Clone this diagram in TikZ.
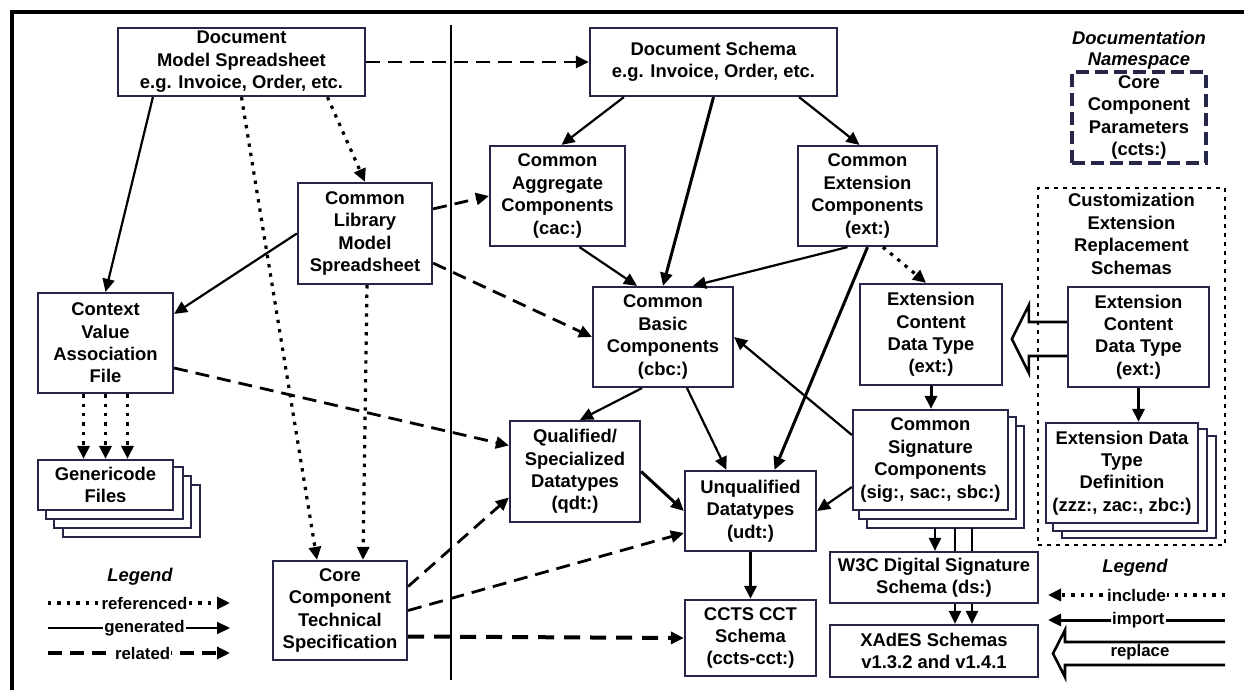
\documentclass[tikz,border=0pt]{standalone}
\usepackage{fontspec}
\setmainfont{Liberation Sans}
\usepackage{xcolor}
\usetikzlibrary{arrows.meta,backgrounds}
\definecolor{boxnavy}{RGB}{38,38,72}
\tikzset{%
  tipA/.tip={Triangle[length=6.5pt,width=6pt]},
  ubox/.style={draw=boxnavy, line width=1.1pt, fill=white, align=center, inner sep=1pt,
    font=\fontsize{9.2}{11.2}\selectfont\bfseries},
  stackline/.style={draw=boxnavy, line width=1.1pt, fill=white},
  docbox/.style={ubox, line width=1.6pt, dash pattern=on 6.5pt off 3pt},
  custbox/.style={draw=black, line width=1.3pt, dash pattern=on 2pt off 2.5pt},
  ttl/.style={align=center, inner sep=0pt, font=\fontsize{9.2}{11.2}\selectfont\bfseries},
  ititle/.style={ttl, font=\fontsize{9.2}{10.5}\selectfont\bfseries\itshape},
  lab/.style={fill=white, inner sep=0.6pt, font=\fontsize{8.4}{9}\selectfont\bfseries},
  genline/.style={line width=1.1pt, -tipA},
  relline/.style={line width=1.4pt, dash pattern=on 7pt off 4pt, -tipA},
  refline/.style={line width=1.6pt, dash pattern=on 1.7pt off 3pt, -tipA},
  hollow/.style={line width=1.3pt, line join=miter}
}

\begin{document}
\begin{tikzpicture}[x=0.5pt,y=-0.5pt]
\useasboundingbox (0,0) rectangle (1244,690);
% frame and separator
\draw[line width=2pt] (12,690) -- (12,12) -- (1244,12);
\draw[line width=1.1pt] (451,25) -- (451,680);

% left part: spreadsheets
\node[ubox, minimum width=123.5pt, minimum height=34pt] (dms) at (241.5,62) {Document\\Model Spreadsheet\\e.g. Invoice, Order, etc.};
\node[ubox, minimum width=67pt, minimum height=50.5pt] (clms) at (365,233.5) {Common\\Library\\Model\\Spreadsheet};
\node[ubox, minimum width=67.5pt, minimum height=50pt] (cva) at (105.5,343) {Context\\Value\\Association\\File};
\node[ubox, minimum width=67.5pt, minimum height=25pt] (gcf) at (105.5,485) {Genericode\\Files};
\node[ubox, minimum width=67pt, minimum height=49.5pt] (ccts) at (340,610.5) {Core\\Component\\Technical\\Specification};

% schemas
\node[ubox, minimum width=123.5pt, minimum height=34pt] (dsc) at (713.5,62) {Document Schema\\e.g. Invoice, Order, etc.};
\node[ubox, minimum width=67.5pt, minimum height=50pt] (cac) at (557.5,196) {Common\\Aggregate\\Components\\(cac:)};
\node[ubox, minimum width=69.5pt, minimum height=50pt] (cec) at (867.5,196) {Common\\Extension\\Components\\(ext:)};
\node[ubox, minimum width=70pt, minimum height=50pt] (cbc) at (663,337) {Common\\Basic\\Components\\(cbc:)};
\node[ubox, minimum width=65pt, minimum height=50.5pt] (qdt) at (575,471.5) {Qualified/\\Specialized\\Datatypes\\(qdt:)};
\node[ubox, minimum width=65.5pt, minimum height=40pt] (udt) at (750.5,511) {Unqualified\\Datatypes\\(udt:)};
\node[ubox, minimum width=65.5pt, minimum height=38pt] (cct) at (750.5,638) {CCTS CCT\\Schema\\(ccts-cct:)};
\node[ubox, minimum width=71pt, minimum height=50.5pt] (ecl) at (931,334.5) {Extension\\Content\\Data Type\\(ext:)};
\node[ubox, minimum width=77.5pt, minimum height=50pt] (csc) at (930.5,460) {Common\\Signature\\Components\\(sig:, sac:, sbc:)};
\node[ubox, minimum width=104pt, minimum height=25.5pt] (w3c) at (934,577.5) {W3C Digital Signature\\Schema (ds:)};
\node[ubox, minimum width=104pt, minimum height=26pt] (xad) at (934,651) {XAdES Schemas\\v1.3.2 and v1.4.1};

% documentation namespace
\node[ititle] (docns) at (1139,50) {Documentation\\Namespace};
\node[docbox, minimum width=67pt, minimum height=45.5pt] (ccp) at (1139,117.5) {Core\\Component\\Parameters\\(ccts:)};

% customization
\node[custbox, minimum width=93.5pt, minimum height=178.5pt] (cust) at (1131.5,366.5) {};
\node[ttl] (custt) at (1131.5,234) {Customization\\Extension\\Replacement\\Schemas};
\node[ubox, minimum width=70.5pt, minimum height=50pt] (ecr) at (1138.5,337) {Extension\\Content\\Data Type\\(ext:)};
\node[ubox, minimum width=76pt, minimum height=50pt] (edt) at (1122,473) {Extension Data\\Type\\Definition\\(zzz:, zac:, zbc:)};

% stacked copies behind the file boxes
\begin{scope}[on background layer]
\foreach \sx/\sy in {13pt/13pt, 8.5pt/8.5pt, 4.5pt/4pt}
  \draw[stackline] ([shift={(\sx,-\sy)}]gcf.north west) rectangle ([shift={(\sx,-\sy)}]gcf.south east);
\foreach \sx/\sy in {7.5pt/8.5pt, 3.5pt/4pt}
  \draw[stackline] ([shift={(\sx,-\sy)}]csc.north west) rectangle ([shift={(\sx,-\sy)}]csc.south east);
\foreach \sx/\sy in {8.5pt/7pt, 4pt/3.5pt}
  \draw[stackline] ([shift={(\sx,-\sy)}]edt.north west) rectangle ([shift={(\sx,-\sy)}]edt.south east);
\foreach \dx in {12.25pt,20.75pt}
  \draw[genline] ([xshift=\dx,yshift=-8.5pt]csc.south) -- ([xshift=\dx]csc.south |- xad.north);
\end{scope}

% generated / import
\draw[genline] ([xshift=18pt]dms.south west) -- (cva.north);
\draw[genline] (clms.west) -- ([yshift=-11pt]cva.north east);
\draw[genline] ([xshift=17.5pt]dsc.south west) -- ([xshift=2pt]cac.north);
\draw[genline, line width=1.5pt] (dsc.south) -- (cbc.north);
\draw[genline] ([xshift=-19.5pt]dsc.south east) -- ([xshift=-4pt]cec.north);
\draw[genline] ([xshift=11pt]cac.south) -- ([xshift=-13pt]cbc.north);
\draw[genline] ([xshift=-10pt]cec.south) -- ([xshift=15pt]cbc.north);
\draw[genline, line width=1.5pt] (cec.south) -- ([xshift=12pt]udt.north);
\draw[genline] ([xshift=-10.5pt]cbc.south) -- ([xshift=2.5pt]qdt.north);
\draw[genline] ([xshift=12pt]cbc.south) -- ([xshift=-12pt]udt.north);
\draw[genline, line width=1.5pt] (qdt.east) -- (udt.west);
\draw[genline] ([yshift=12.5pt]csc.west) -- (cbc.east);
\draw[genline] ([yshift=-13.5pt]csc.west) -- (udt.east);
\draw[genline, line width=1.5pt] (udt.south) -- (cct.north);
\draw[genline, line width=1.5pt] (ecl.south) -- (ecl.south |- csc.north);
\draw[genline, line width=1.5pt] (ecr.south) -- (ecr.south |- edt.north);
\draw[genline] ([xshift=2.25pt,yshift=-8.5pt]csc.south) -- ([xshift=2.25pt]csc.south |- w3c.north);

% related
\draw[relline] (dms.east) -- (dsc.west);
\draw[relline] ([yshift=-13.5pt]clms.north east) -- (cac.west);
\draw[relline] ([yshift=11pt]clms.south east) -- (cbc.west);
\draw[relline] ([yshift=-12.5pt]cva.east) -- ([yshift=13pt]qdt.west);
\draw[relline] ([yshift=12pt]ccts.east) -- ([yshift=-13pt]qdt.west);
\draw[relline] (ccts.east) -- ([yshift=-11pt]udt.west);
\draw[relline, line width=2pt, dash pattern=on 8pt off 5pt] ([yshift=-13pt]ccts.east) -- (cct.west);

% referenced / include
\draw[refline] (dms.south) -- ([xshift=-11.5pt]ccts.north);
\draw[refline] ([xshift=43pt]dms.south) -- (clms.north);
\draw[refline] ([xshift=1pt]clms.south) -- ([xshift=11.5pt]ccts.north);
\foreach \dx in {-11pt,0pt,11pt}
  \draw[refline] ([xshift=\dx]cva.south) -- ([xshift=\dx]gcf.north);
\draw[refline] ([xshift=7.75pt]cec.south) -- ([xshift=-2.5pt]ecl.north);

% replace
\draw[hollow] ([yshift=7.5pt]ecr.west) -- ++(-38,0) -- ++(0,-17) -- ++(-17,34)
  -- ++(17,34) -- ++(0,-17) -- ([yshift=-9.5pt]ecr.west);

% legend, left
\node[ititle] (lgl) at (140,577) {Legend};
\coordinate (r1) at (48,603); \coordinate (r2) at (230,603);
\coordinate (g1) at (48,628); \coordinate (g2) at (230,628);
\coordinate (d1) at (48,653); \coordinate (d2) at (230,653);
\draw[refline] (r1) -- node[lab, pos=0.53]{referenced} (r2);
\draw[genline] (g1) -- node[lab, pos=0.53]{generated} (g2);
\draw[relline, line width=1.6pt] (d1) -- node[lab, pos=0.52]{related} (d2);

% legend, right
\node[ititle] (lgr) at (1135,568) {Legend};
\coordinate (i1) at (1225,595); \coordinate (i2) at (1048,595);
\coordinate (m1) at (1225,620); \coordinate (m2) at (1048,620);
\coordinate (p1) at (1225,642);
\draw[refline] (i1) -- node[lab, pos=0.5]{include} (i2);
\draw[genline, line width=1.5pt] (m1) -- node[lab, pos=0.49]{import} (m2);
\draw[hollow] (p1) -- ++(-160,0) -- ++(0,-12) -- ++(-12,23.5) -- ++(12,23.5) -- ++(0,-12) -- ++(160,0);
\node[lab, fill=none] (plab) at (1140,652) {replace};
\end{tikzpicture}
\end{document}
